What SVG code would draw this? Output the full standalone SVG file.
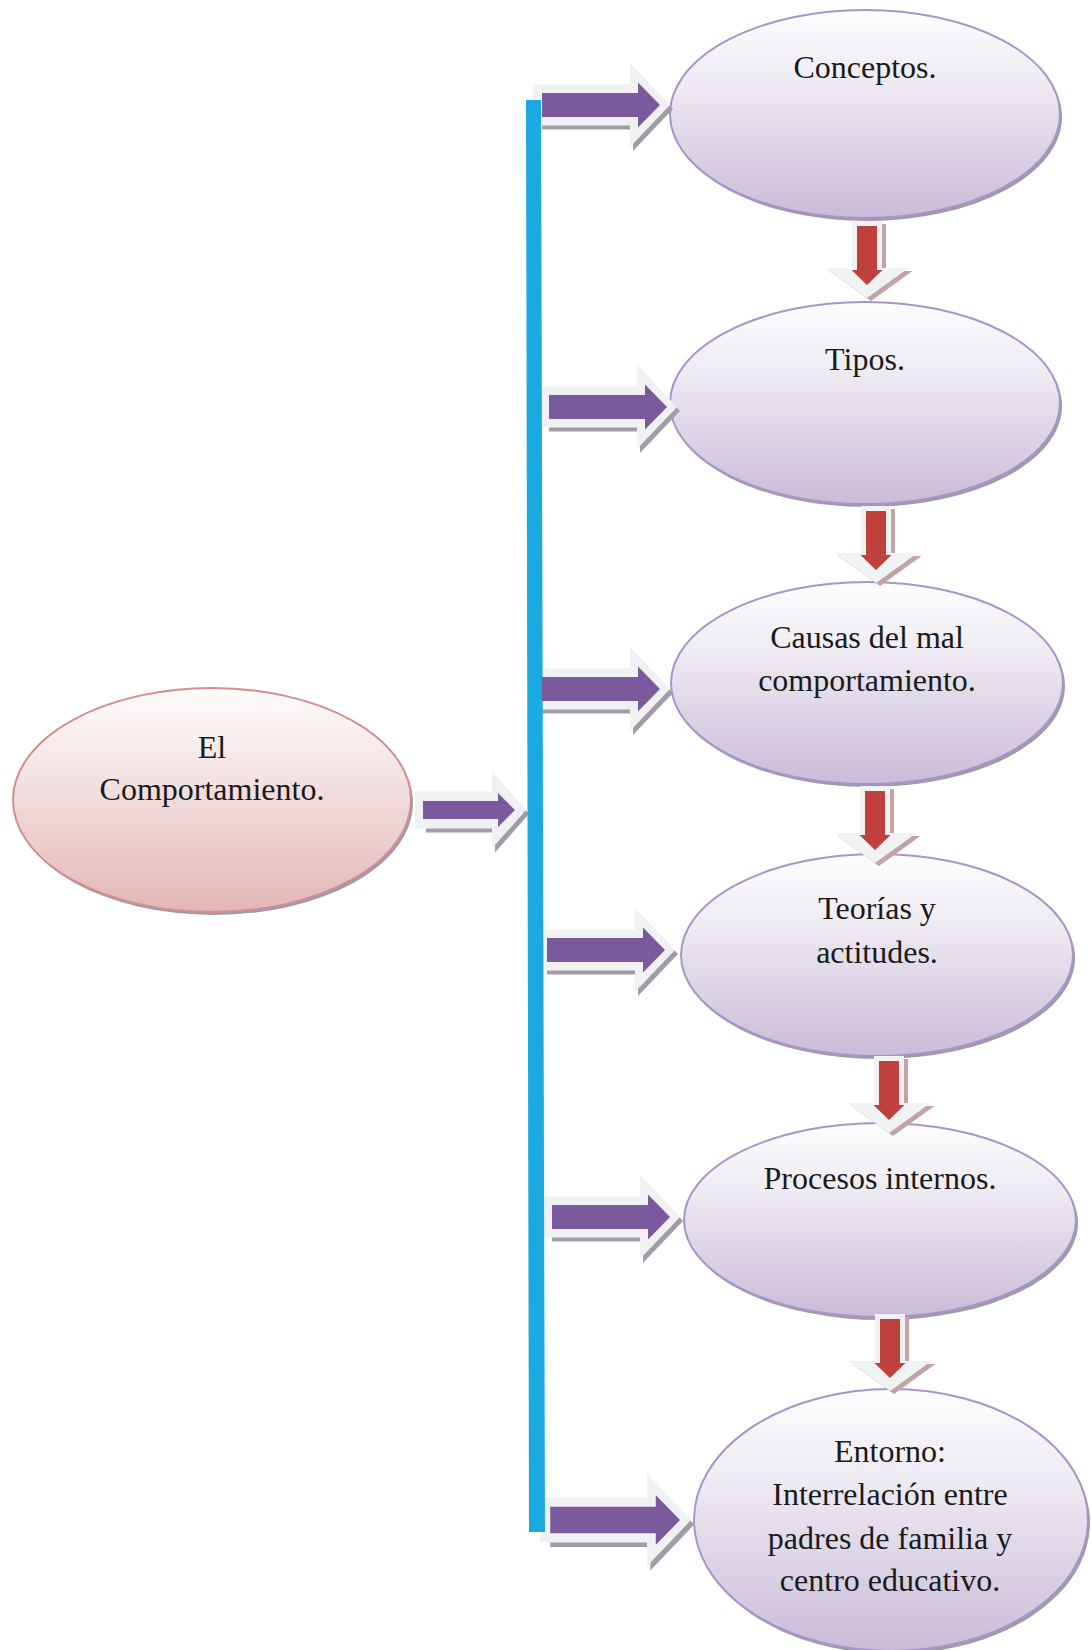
<svg xmlns="http://www.w3.org/2000/svg" width="1091" height="1650" viewBox="0 0 1091 1650">
<defs>
<linearGradient id="gP" x1="0" y1="0" x2="0" y2="1">
<stop offset="0" stop-color="#fdfdfe"/>
<stop offset="0.35" stop-color="#eeeaf2"/>
<stop offset="1" stop-color="#c9bcd9"/>
</linearGradient>
<linearGradient id="gR" x1="0" y1="0" x2="0" y2="1">
<stop offset="0" stop-color="#fefcfc"/>
<stop offset="0.35" stop-color="#f5e6e6"/>
<stop offset="1" stop-color="#e3b6b5"/>
</linearGradient>
<path id="rSh" d="M-121,-20.5 H-30 V-42 L10,0 L-30,42 V20.5 H-121 Z"/>
<path id="rOut" d="M-127,-20.5 H-30 V-42 L10,0 L-30,42 V20.5 H-127 Z"/>
<path id="rIn" d="M-118,-12 H-22 V-22.5 L0,0 L-22,22.5 V12 H-118 Z"/>
<path id="dSh" d="M-15,-64 H15 V-17 H41.5 L0,13 L-41.5,-17 H-15 Z"/>
<path id="dIn" d="M-10,-59 H10 V-15 H15.5 L0,0 L-15.5,-15 H-10 Z"/>
</defs>
<style>
.pe{fill:url(#gP);stroke:#a894c9;stroke-width:2}
.re{fill:url(#gR);stroke:#d58e8e;stroke-width:2}
.sh{fill:#a09aa8}
.t{font-family:"Liberation Serif","Times New Roman",serif;font-size:32px;fill:#1a1a1a;text-anchor:middle}
.ash{fill:#a29ca9}
.aout{fill:#f0f1f3}
.ain{fill:#7a5a9d}
.dsh{fill:#c3a3a4}
.dout{fill:#f1f2f4}
.din{fill:#c0403e}
</style>

<g id="n0">
<ellipse class="sh" cx="214" cy="803" rx="199" ry="112"/>
<ellipse class="re" cx="212" cy="800" rx="199" ry="112"/>
<text class="t" x="212" y="758">El</text>
<text class="t" x="212" y="800">Comportamiento.</text>
</g>
<g id="n1">
<ellipse class="sh" cx="867" cy="117" rx="195" ry="104"/>
<ellipse class="pe" cx="865" cy="114" rx="195" ry="104"/>
<text class="t" x="865" y="78">Conceptos.</text>
</g>
<g id="n2">
<ellipse class="sh" cx="867" cy="406" rx="195" ry="101"/>
<ellipse class="pe" cx="865" cy="403" rx="195" ry="101"/>
<text class="t" x="865" y="370">Tipos.</text>
</g>
<g id="n3">
<ellipse class="sh" cx="869" cy="686" rx="196" ry="101"/>
<ellipse class="pe" cx="867" cy="683" rx="196" ry="101"/>
<text class="t" x="867" y="648">Causas del mal</text>
<text class="t" x="867" y="691">comportamiento.</text>
</g>
<g id="n4">
<ellipse class="sh" cx="879" cy="958" rx="196" ry="101"/>
<ellipse class="pe" cx="877" cy="955" rx="196" ry="101"/>
<text class="t" x="877" y="919">Teorías y</text>
<text class="t" x="877" y="963">actitudes.</text>
</g>
<g id="n5">
<ellipse class="sh" cx="882" cy="1223" rx="196" ry="97"/>
<ellipse class="pe" cx="880" cy="1220" rx="196" ry="97"/>
<text class="t" x="880" y="1189">Procesos internos.</text>
</g>
<g id="n6">
<ellipse class="sh" cx="893" cy="1523" rx="197" ry="131"/>
<ellipse class="pe" cx="891" cy="1520" rx="197" ry="131"/>
<text class="t" x="890" y="1462">Entorno:</text>
<text class="t" x="890" y="1505">Interrelación entre</text>
<text class="t" x="890" y="1549">padres de familia y</text>
<text class="t" x="890" y="1591">centro educativo.</text>
</g>

<g id="connectors">
<!-- left arrow -->
<g transform="translate(515,810)">
<path class="ash" d="M-92,-18.5 H-23 V-38.5 L11,0 L-23,38.5 V18.5 H-92 Z" transform="translate(3,4)"/>
<path class="aout" d="M-100,-18.5 H-23 V-38.5 L11,0 L-23,38.5 V18.5 H-100 Z"/>
<path class="ain" d="M-92,-9 H-17 V-17 L0,0 L-17,17 V9 H-92 Z"/>
</g>
<!-- right arrows -->
<g transform="translate(660,105)"><use href="#rSh" class="ash" transform="translate(3,4)"/><use href="#rOut" class="aout"/></g>
<g transform="translate(667,407)"><use href="#rSh" class="ash" transform="translate(3,4)"/><use href="#rOut" class="aout"/></g>
<g transform="translate(660,689)"><use href="#rSh" class="ash" transform="translate(3,4)"/><use href="#rOut" class="aout"/></g>
<g transform="translate(665,950)"><use href="#rSh" class="ash" transform="translate(3,4)"/><use href="#rOut" class="aout"/></g>
<g transform="translate(670,1217)"><use href="#rSh" class="ash" transform="translate(3,4)"/><use href="#rOut" class="aout"/></g>
<g transform="translate(680,1520) scale(1.1)"><use href="#rSh" class="ash" transform="translate(3,4)"/><use href="#rOut" class="aout"/></g>
<!-- blue bar -->
<polygon points="526,100 541,100 545,1532 529,1532" fill="#1aa9e0"/>
<g transform="translate(660,105)"><use href="#rIn" class="ain"/></g>
<g transform="translate(667,407)"><use href="#rIn" class="ain"/></g>
<g transform="translate(660,689)"><use href="#rIn" class="ain"/></g>
<g transform="translate(665,950)"><use href="#rIn" class="ain"/></g>
<g transform="translate(670,1217)"><use href="#rIn" class="ain"/></g>
<g transform="translate(680,1520) scale(1.1)"><use href="#rIn" class="ain"/></g>
<!-- down arrows -->
<g transform="translate(867,285)"><use href="#dSh" class="dsh" transform="translate(4,3)"/><use href="#dSh" class="dout"/><use href="#dIn" class="din"/></g>
<g transform="translate(876,570)"><use href="#dSh" class="dsh" transform="translate(4,3)"/><use href="#dSh" class="dout"/><use href="#dIn" class="din"/></g>
<g transform="translate(875,850)"><use href="#dSh" class="dsh" transform="translate(4,3)"/><use href="#dSh" class="dout"/><use href="#dIn" class="din"/></g>
<g transform="translate(889,1120)"><use href="#dSh" class="dsh" transform="translate(4,3)"/><use href="#dSh" class="dout"/><use href="#dIn" class="din"/></g>
<g transform="translate(890,1378)"><use href="#dSh" class="dsh" transform="translate(4,3)"/><use href="#dSh" class="dout"/><use href="#dIn" class="din"/></g>
</g>
</svg>
